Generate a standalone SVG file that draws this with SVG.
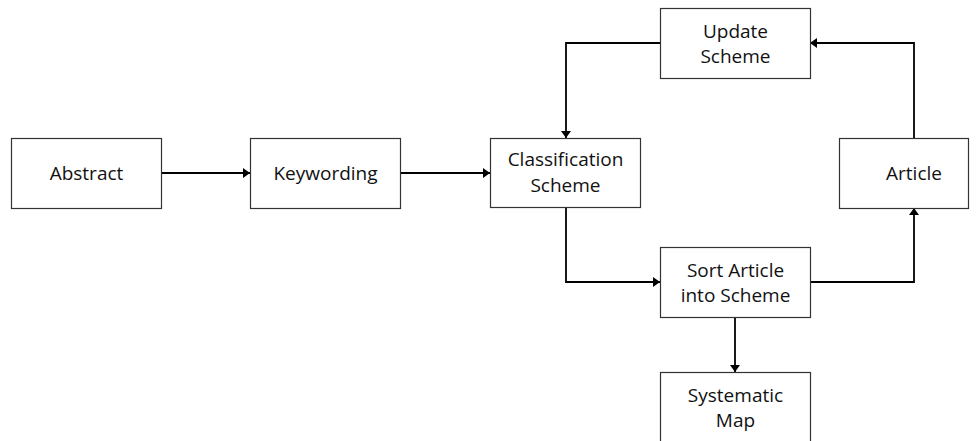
<svg xmlns="http://www.w3.org/2000/svg" width="978" height="441" viewBox="0 0 978 441">
<style>
.box{fill:#fff;stroke:#333;stroke-width:1.2}
.lbl{font-family:"Open Sans","Liberation Sans",sans-serif;font-size:19px;fill:#111;text-anchor:middle}
.conn{fill:none;stroke:#000;stroke-width:1.8}
</style>
<defs>
<marker id="ah" viewBox="0 0 7 10" refX="7" refY="5" markerWidth="7" markerHeight="10" markerUnits="userSpaceOnUse" orient="auto">
<path d="M0,0 L7,5 L0,10 z" fill="#000"/>
</marker>
</defs>
<rect width="978" height="441" fill="#fff"/>
<g id="connectors">
<path class="conn" d="M162,173 H250" marker-end="url(#ah)"/>
<path class="conn" d="M401,173 H490" marker-end="url(#ah)"/>
<path class="conn" d="M660,43 H566 V138" marker-end="url(#ah)"/>
<path class="conn" d="M914,138 V43 H810" marker-end="url(#ah)"/>
<path class="conn" d="M566,207 V282 H660" marker-end="url(#ah)"/>
<path class="conn" d="M810,282 H914 V208" marker-end="url(#ah)"/>
<path class="conn" d="M735,317 V372" marker-end="url(#ah)"/>
</g>
<g id="abstract"><rect class="box" x="11.5" y="138.5" width="150" height="70"/><text class="lbl" x="86.5" y="180">Abstract</text></g>
<g id="keywording"><rect class="box" x="250.5" y="138.5" width="150" height="70"/><text class="lbl" x="325.5" y="180">Keywording</text></g>
<g id="classification"><rect class="box" x="490.5" y="138.5" width="150" height="69"/><text class="lbl" x="565.5" y="166">Classification</text><text class="lbl" x="565.5" y="192">Scheme</text></g>
<g id="update"><rect class="box" x="660.5" y="8.5" width="150" height="70"/><text class="lbl" x="735.5" y="38">Update</text><text class="lbl" x="735.5" y="63">Scheme</text></g>
<g id="article"><rect class="box" x="839.5" y="138.5" width="129" height="70"/><text class="lbl" x="914" y="180">Article</text></g>
<g id="sort"><rect class="box" x="660.5" y="247.5" width="150" height="70"/><text class="lbl" x="735.5" y="277">Sort Article</text><text class="lbl" x="735.5" y="302">into Scheme</text></g>
<g id="systematic"><rect class="box" x="660.5" y="372.5" width="150" height="80"/><text class="lbl" x="735.5" y="402">Systematic</text><text class="lbl" x="735.5" y="427">Map</text></g>
</svg>
